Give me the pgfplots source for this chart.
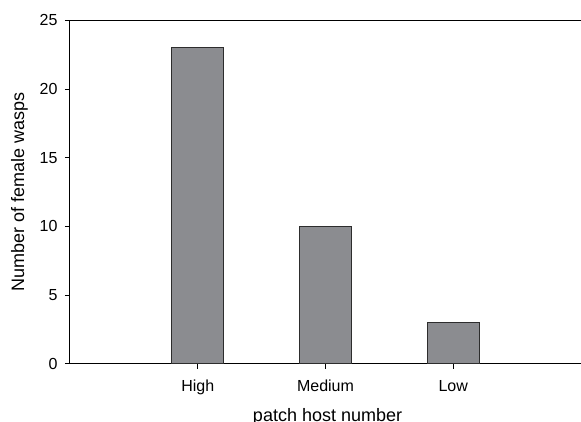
\documentclass[border=0pt]{standalone}
\usepackage{pgfplots}
\pgfplotsset{compat=1.18}
\usepackage{fontspec}
\setmainfont{Liberation Sans}
\definecolor{barfill}{RGB}{139,140,144}
\definecolor{baredge}{RGB}{45,45,45}
\begin{document}
\begin{tikzpicture}
\begin{axis}[
  scale only axis,
  width=511bp, height=343.5bp,
  at={(0,0)}, anchor=south west,
  xmin=0, xmax=4, ymin=0, ymax=25,
  xtick={1,2,3},
  xticklabels={High,Medium,Low},
  ytick={0,5,10,15,20,25},
  tick pos=left,
  tick align=outside,
  major tick length=5bp,
  tick style={black, line width=0.8bp},
  axis line style={black, line width=1bp},
  /pgf/number format/assume math mode=true,
  ticklabel style={font=\fontsize{16bp}{19bp}\selectfont, text=black},
  yticklabel style={xshift=-4bp},
  xticklabel style={yshift=-8bp},
  every axis x label/.style={at={(axis description cs:0.504,-0.1674)}, anchor=base},
  every axis y label/.style={at={(axis description cs:-0.0900,0.5)}, rotate=90, anchor=base},
  label style={font=\fontsize{18bp}{21bp}\selectfont},
  xlabel={patch host number},
  ylabel={Number of female wasps},
  clip=false,
]
\addplot[ybar, bar width=52bp, fill=barfill, draw=baredge, line width=1bp]
  coordinates {(1,23) (2,10) (3,3)};
\end{axis}
\pgfresetboundingbox
\path[use as bounding box] (-70bp,-57.5bp) rectangle (511bp,363.8bp);
\end{tikzpicture}
\end{document}
